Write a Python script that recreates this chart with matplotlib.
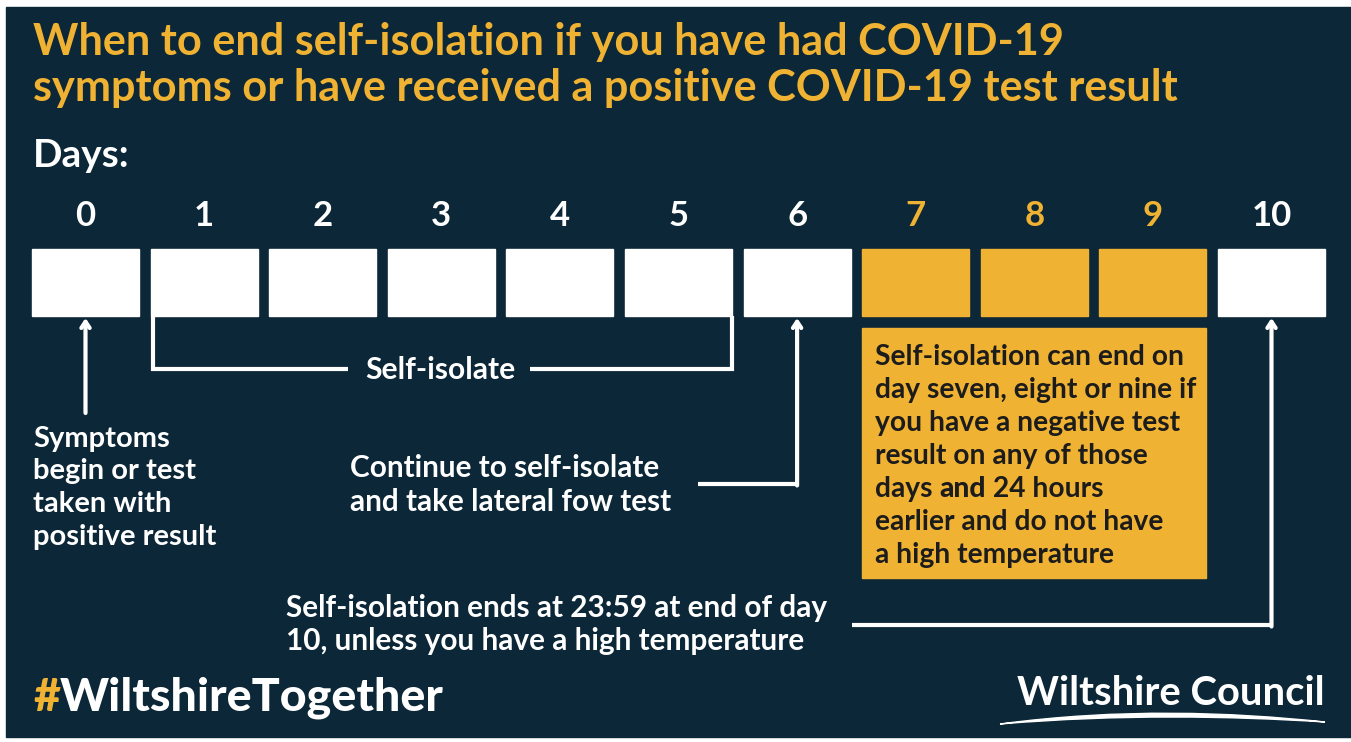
import matplotlib
matplotlib.use("Agg")
import matplotlib.pyplot as plt
from matplotlib.patches import Rectangle, PathPatch
from matplotlib.path import Path

# canvas in pixels, y grows downwards like the original poster
W, H = 1351, 742
NAVY = "#0c2737"
GOLD = "#f0b232"
WHITE = "#ffffff"
INK = "#1c1c1c"
FONT = "Lato"

title_lines = ["When to end self-isolation if you have had COVID-19",
               "symptoms or have received a positive COVID-19 test result"]
days = list(range(11))
early_end_days = [7, 8, 9]
start_note = ["Symptoms", "begin or test", "taken with", "positive result"]
isolate_label = "Self-isolate"
isolate_days = [1, 5]
day6_note = ["Continue to self-isolate", "and take lateral fow test"]
early_note = ["Self-isolation can end on",
              "day seven, eight or nine if",
              "you have a negative test",
              "result on any of those",
              "days |and| 24 hours",
              "earlier and do not have",
              "a high temperature"]
end_note = ["Self-isolation ends at 23:59 at end of day",
            "10, unless you have a high temperature"]
hashtag = ["#", "WiltshireTogether"]
logo = "Wiltshire Council"

# day box geometry
BOX_X0, PITCH, BOX_W = 32, 118.6, 107
BOX_TOP, BOX_BOT = 249, 316
LW = 3.0


def box_left(d):
    return BOX_X0 + d * PITCH


def box_mid(d):
    return box_left(d) + BOX_W / 2


fig = plt.figure(figsize=(W / 100, H / 100), dpi=100)
fig.patch.set_facecolor("white")
ax = fig.add_axes([0, 0, 1, 1])
ax.set_xlim(0, W)
ax.set_ylim(H, 0)
ax.axis("off")

ax.add_patch(Rectangle((6, 7), W - 6, 730, color=NAVY, zorder=0))


def txt(x, y, s, color=WHITE, size=17, weight="bold", **kw):
    kw.setdefault("va", "baseline")
    return ax.text(x, y, s, color=color, fontsize=size, fontweight=weight,
                   family=FONT, **kw)


# title
title_t = [txt(33, 55 + i * 46, line, GOLD, 27) for i, line in enumerate(title_lines)]
days_t = txt(33, 167, "Days:", size=23)

# day numbers and boxes
for d in days:
    c = GOLD if d in early_end_days else WHITE
    txt(box_mid(d), 226, str(d), c, 25, ha="center")
    ax.add_patch(Rectangle((box_left(d), BOX_TOP), BOX_W, BOX_BOT - BOX_TOP,
                           color=c, zorder=2))


def up_arrow(x, y0):
    ax.annotate("", xy=(x, BOX_BOT + 2), xytext=(x, y0),
                arrowprops=dict(arrowstyle="->,head_length=0.45,head_width=0.3",
                                color=WHITE, lw=LW, shrinkA=0, shrinkB=0))


# day 0 note
up_arrow(box_mid(0), 413)
start_t = [txt(33, 447 + i * 32.5, line) for i, line in enumerate(start_note)]

# self-isolate bracket
xa = box_left(isolate_days[0]) + 2
xb = box_left(isolate_days[1]) + BOX_W
ax.plot([xa, xa, 348], [BOX_BOT, 369, 369], color=WHITE, lw=LW,
        solid_joinstyle="miter", solid_capstyle="butt")
ax.plot([530, xb, xb], [369, 369, BOX_BOT], color=WHITE, lw=LW,
        solid_joinstyle="miter", solid_capstyle="butt")
iso_t = txt(440, 370, isolate_label, ha="center", va="center")

# day 6 note
day6_t = [txt(350, 477 + i * 34, line) for i, line in enumerate(day6_note)]
ax.plot([698, box_mid(6)], [484, 484], color=WHITE, lw=LW,
        solid_capstyle="butt")
up_arrow(box_mid(6), 485.5)

# early end note in a gold panel under days 7-9
px0 = box_left(early_end_days[0])
px1 = box_left(early_end_days[-1]) + BOX_W
ax.add_patch(Rectangle((px0, 328), px1 - px0, 250, color=GOLD, zorder=2))
early_t, early_extra = [], []
for i, line in enumerate(early_note):
    parts = line.split("|")
    t = txt(875, 365 + i * 33, parts[0], INK, zorder=3)
    early_t.append(t)
    for j, p in enumerate(parts[1:]):
        # the word between the bars is set heavier, as on the poster
        t = ax.annotate(p, xy=(1, 0), xycoords=t, color=INK, fontsize=17,
                        fontweight="black" if j == 0 else "bold",
                        family=FONT, va="bottom", zorder=3)
        early_extra.append(t)

# day 10 note
end_t = [txt(286, 617 + i * 33, line) for i, line in enumerate(end_note)]
ax.plot([852, box_mid(10)], [625, 625], color=WHITE, lw=LW,
        solid_capstyle="butt")
up_arrow(box_mid(10), 626.5)

# footer
hash_t = txt(33, 711, hashtag[0], GOLD, 28, "black")
hash_rest = ax.annotate(hashtag[1], xy=(1, 0), xycoords=hash_t, color=WHITE,
                        fontsize=28, fontweight="black", family=FONT, va="bottom")
logo_t = txt(1325, 705, logo, size=27, ha="right")
# swoosh under the logo
swoosh = Path([(1000, 724), (1120, 708), (1230, 712), (1325, 722),
               (1230, 716), (1120, 714), (1000, 724)],
              [Path.MOVETO, Path.CURVE4, Path.CURVE4, Path.CURVE4,
               Path.CURVE4, Path.CURVE4, Path.CURVE4])
ax.add_patch(PathPatch(swoosh, facecolor=WHITE, edgecolor=WHITE, lw=1))

# scale the text groups so their widths match the poster
fig.canvas.draw()
rend = fig.canvas.get_renderer()


def fit(texts, widths, extra=()):
    ratios = [w / t.get_window_extent(rend).width for t, w in zip(texts, widths)]
    k = sum(ratios) / len(ratios)
    for t in list(texts) + list(extra):
        t.set_fontsize(t.get_fontsize() * k)


fit(title_t, [999, 1174])
fit([days_t], [97])
fit(start_t[3:], [184], start_t[:3])
fit([iso_t], [150])
fit(day6_t, [308, 323])
fit(early_t[:2], [308, 320], early_t[2:] + early_extra)
fit(end_t, [550, 511])
fit([logo_t], [307])
hw = (hash_t.get_window_extent(rend).width
      + hash_rest.get_window_extent(rend).width)
for t in (hash_t, hash_rest):
    t.set_fontsize(t.get_fontsize() * 410 / hw)

fig.savefig("out.png", dpi=100, facecolor=fig.get_facecolor())
